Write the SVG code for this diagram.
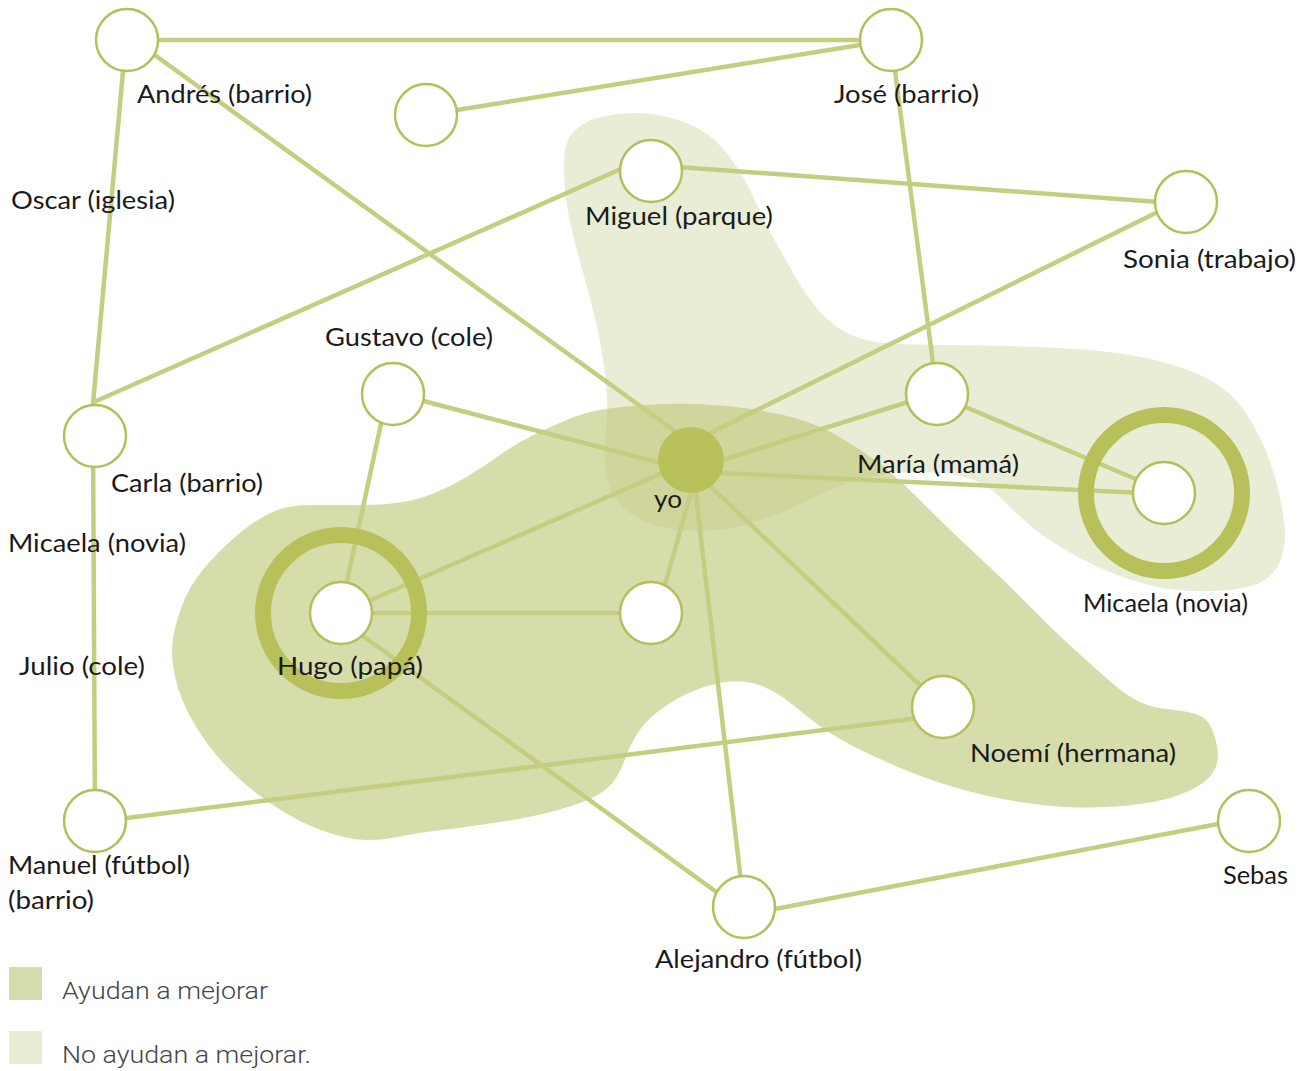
<svg xmlns="http://www.w3.org/2000/svg" width="1311" height="1071" viewBox="0 0 1311 1071">
<style>
.blob-light{fill:#e9edd6;stroke:none}
.blob-dark{fill:#bec678;fill-opacity:0.62;stroke:none}
.edge{stroke:#c5cd80;stroke-width:4.5;fill:none;stroke-linecap:round}
.node{fill:#ffffff;stroke:#b5be5a;stroke-width:2.5}
.ring{fill:none;stroke:#b8c05a;stroke-width:16}
.lbl{font-family:Lato,"Open Sans","Liberation Sans",sans-serif;font-size:25px;fill:#1a1a1a}
.leg{font-family:Roboto,"Liberation Sans",sans-serif;font-weight:300;font-size:24px;fill:#444444}
</style>
<rect width="1311" height="1071" fill="#ffffff"/>
<g id="blobs">
<path class="blob-light" d="M565,187.5 Q563,165 564.5,152.5 Q566,140 573,132.5 Q580,125 590,120.5 Q600,116 618.5,114 Q637,112 655,114.5 Q673,117 690,124.5 Q707,132 718.5,144 Q730,156 738.5,169.5 Q747,183 757,205 Q767,227 777,244.5 Q787,262 797,279.5 Q807,297 818.5,310 Q830,323 843.5,331 Q857,339 873.5,341.5 Q890,344 915,344.5 Q940,345 980,345.5 Q1020,346 1060,348 Q1100,350 1130,355 Q1160,360 1185,369 Q1210,378 1225,390 Q1240,402 1251,421 Q1262,440 1268.5,457.5 Q1275,475 1279,492.5 Q1283,510 1284.5,525 Q1286,540 1283,552.5 Q1280,565 1272.5,573.5 Q1265,582 1251,586 Q1237,590 1213.5,591 Q1190,592 1171.5,589.5 Q1153,587 1131.5,580 Q1110,573 1090,563 Q1070,553 1053.5,542.5 Q1037,532 1025,521 Q1013,510 1003,500 Q993,490 981.5,483.5 Q970,477 950,474 Q930,471 910,472 Q890,473 873.5,476 Q857,479 840,486 Q823,493 806.5,501 Q790,509 773.5,515.5 Q757,522 740,526 Q723,530 706.5,531 Q690,532 673.5,529.5 Q657,527 643.5,521 Q630,515 621,505 Q612,495 608,482.5 Q604,470 604.5,455 Q605,440 606.5,425 Q608,410 606.5,390 Q605,370 601.5,350 Q598,330 593,310 Q588,290 582,269 Q576,248 571.5,229 Q567,210 565,187.5 Z"/>
<path class="blob-dark" d="M600,410 Q617,407 645,405 Q673,403 698,404 Q723,405 748,408.5 Q773,412 793,417.5 Q813,423 826.5,430 Q840,437 853.5,445.5 Q867,454 880,464 Q893,474 906.5,487 Q920,500 936.5,516.5 Q953,533 980,558 Q1007,583 1030,606.5 Q1053,630 1075,650 Q1097,670 1112,683 Q1127,696 1140,702 Q1153,708 1170,709.5 Q1187,711 1197,714.5 Q1207,718 1211.5,728 Q1216,738 1217.5,749 Q1219,760 1215,769 Q1211,778 1199,785.5 Q1187,793 1170,798 Q1153,803 1128,805.5 Q1103,808 1078,807.5 Q1053,807 1020,802 Q987,797 953.5,787 Q920,777 886.5,762 Q853,747 836.5,737 Q820,727 808,717 Q796,707 784.5,698.5 Q773,690 759.5,685 Q746,680 730,681.5 Q714,683 696,690 Q678,697 662,708.5 Q646,720 638,732.5 Q630,745 626,756.5 Q622,768 616,778 Q610,788 596.5,795.5 Q583,803 558,810 Q533,817 500,822 Q467,827 442,830 Q417,833 400,836.5 Q383,840 366.5,840 Q350,840 325,831.5 Q300,823 275,806.5 Q250,790 230,770 Q210,750 195,725 Q180,700 175,676.5 Q170,653 173.5,635 Q177,617 185,598.5 Q193,580 210,561.5 Q227,543 243.5,530 Q260,517 275,511 Q290,505 311.5,505 Q333,505 358,505 Q383,505 400,502.5 Q417,500 433.5,493.5 Q450,487 466.5,477 Q483,467 500,455 Q517,443 533.5,435 Q550,427 566.5,420 Q583,413 600,410 Z"/>
</g>
<g id="connectors">
<line class="edge" x1="127" y1="40" x2="891" y2="40"/>
<line class="edge" x1="426" y1="115" x2="891" y2="40"/>
<line class="edge" x1="127" y1="35" x2="690" y2="442"/>
<line class="edge" x1="124" y1="60" x2="92" y2="415"/>
<line class="edge" x1="93" y1="436" x2="95" y2="821"/>
<line class="edge" x1="94" y1="402" x2="630" y2="165"/>
<line class="edge" x1="651" y1="165" x2="1186" y2="204"/>
<line class="edge" x1="891" y1="40" x2="937" y2="394"/>
<line class="edge" x1="690" y1="443" x2="1186" y2="198"/>
<line class="edge" x1="393" y1="393" x2="680" y2="468"/>
<line class="edge" x1="384" y1="410" x2="344" y2="595"/>
<line class="edge" x1="937" y1="393" x2="690" y2="470"/>
<line class="edge" x1="937" y1="395" x2="1164" y2="491"/>
<line class="edge" x1="700" y1="472" x2="1164" y2="494"/>
<line class="edge" x1="690" y1="461" x2="341" y2="613"/>
<line class="edge" x1="341" y1="613" x2="651" y2="613"/>
<line class="edge" x1="698" y1="468" x2="657" y2="613"/>
<line class="edge" x1="693" y1="470" x2="744" y2="907"/>
<line class="edge" x1="690" y1="467" x2="943" y2="707"/>
<line class="edge" x1="341" y1="620" x2="744" y2="912"/>
<line class="edge" x1="95" y1="822" x2="943" y2="715"/>
<line class="edge" x1="744" y1="915" x2="1249" y2="818"/>
</g>
<g id="node-andres"><circle class="node" cx="127" cy="40" r="31"/><text class="lbl" x="137" y="103" textLength="175" lengthAdjust="spacingAndGlyphs">Andrés (barrio)</text></g>
<g id="node-jose"><circle class="node" cx="891" cy="40" r="31"/><text class="lbl" x="834" y="103" textLength="145" lengthAdjust="spacingAndGlyphs">José (barrio)</text></g>
<g id="node-unnamed-top"><circle class="node" cx="426" cy="115" r="31"/></g>
<g id="node-oscar"><text class="lbl" x="11" y="209" textLength="164" lengthAdjust="spacingAndGlyphs">Oscar (iglesia)</text></g>
<g id="node-miguel"><circle class="node" cx="651" cy="171" r="31"/><text class="lbl" x="585" y="225" textLength="188" lengthAdjust="spacingAndGlyphs">Miguel (parque)</text></g>
<g id="node-sonia"><circle class="node" cx="1186" cy="202" r="31"/><text class="lbl" x="1123" y="268" textLength="173" lengthAdjust="spacingAndGlyphs">Sonia (trabajo)</text></g>
<g id="node-gustavo"><circle class="node" cx="393" cy="394" r="31"/><text class="lbl" x="325" y="346" textLength="168" lengthAdjust="spacingAndGlyphs">Gustavo (cole)</text></g>
<g id="node-carla"><circle class="node" cx="95" cy="436" r="31"/><text class="lbl" x="111" y="492" textLength="152" lengthAdjust="spacingAndGlyphs">Carla (barrio)</text></g>
<g id="node-maria"><circle class="node" cx="937" cy="394" r="31"/><text class="lbl" x="857" y="473" textLength="162" lengthAdjust="spacingAndGlyphs">María (mamá)</text></g>
<g id="node-yo"><circle cx="691" cy="460" r="33" fill="#b8c05a"/><text class="lbl" x="654" y="508" textLength="28" lengthAdjust="spacingAndGlyphs">yo</text></g>
<g id="node-micaela-right"><circle class="ring" cx="1164" cy="493" r="78"/><circle class="node" cx="1164" cy="493" r="31"/><text class="lbl" x="1083" y="612" textLength="165" lengthAdjust="spacingAndGlyphs">Micaela (novia)</text></g>
<g id="node-micaela-left"><text class="lbl" x="8" y="552" textLength="178" lengthAdjust="spacingAndGlyphs">Micaela (novia)</text></g>
<g id="node-julio"><text class="lbl" x="19" y="675" textLength="126" lengthAdjust="spacingAndGlyphs">Julio (cole)</text></g>
<g id="node-hugo"><circle class="ring" cx="341" cy="613" r="78"/><circle class="node" cx="341" cy="613" r="31"/><text class="lbl" x="277" y="675" textLength="146" lengthAdjust="spacingAndGlyphs">Hugo (papá)</text></g>
<g id="node-unnamed-mid"><circle class="node" cx="651" cy="613" r="31"/></g>
<g id="node-noemi"><circle class="node" cx="943" cy="707" r="31"/><text class="lbl" x="970" y="762" textLength="206" lengthAdjust="spacingAndGlyphs">Noemí (hermana)</text></g>
<g id="node-manuel"><circle class="node" cx="95" cy="821" r="31"/><text class="lbl" x="8" y="874" textLength="182" lengthAdjust="spacingAndGlyphs">Manuel (fútbol)</text><text class="lbl" x="8" y="909" textLength="86" lengthAdjust="spacingAndGlyphs">(barrio)</text></g>
<g id="node-alejandro"><circle class="node" cx="744" cy="907" r="31"/><text class="lbl" x="655" y="968" textLength="207" lengthAdjust="spacingAndGlyphs">Alejandro (fútbol)</text></g>
<g id="node-sebas"><circle class="node" cx="1249" cy="821" r="31"/><text class="lbl" x="1223" y="884" textLength="65" lengthAdjust="spacingAndGlyphs">Sebas</text></g>
<g id="legend">
<rect x="9" y="967" width="33" height="33" fill="#d7dcae"/>
<text class="leg" x="62" y="999" textLength="206" lengthAdjust="spacingAndGlyphs">Ayudan a mejorar</text>
<rect x="9" y="1031" width="33" height="33" fill="#e9edd6"/>
<text class="leg" x="62" y="1063" textLength="249" lengthAdjust="spacingAndGlyphs">No ayudan a mejorar.</text>
</g>
</svg>
